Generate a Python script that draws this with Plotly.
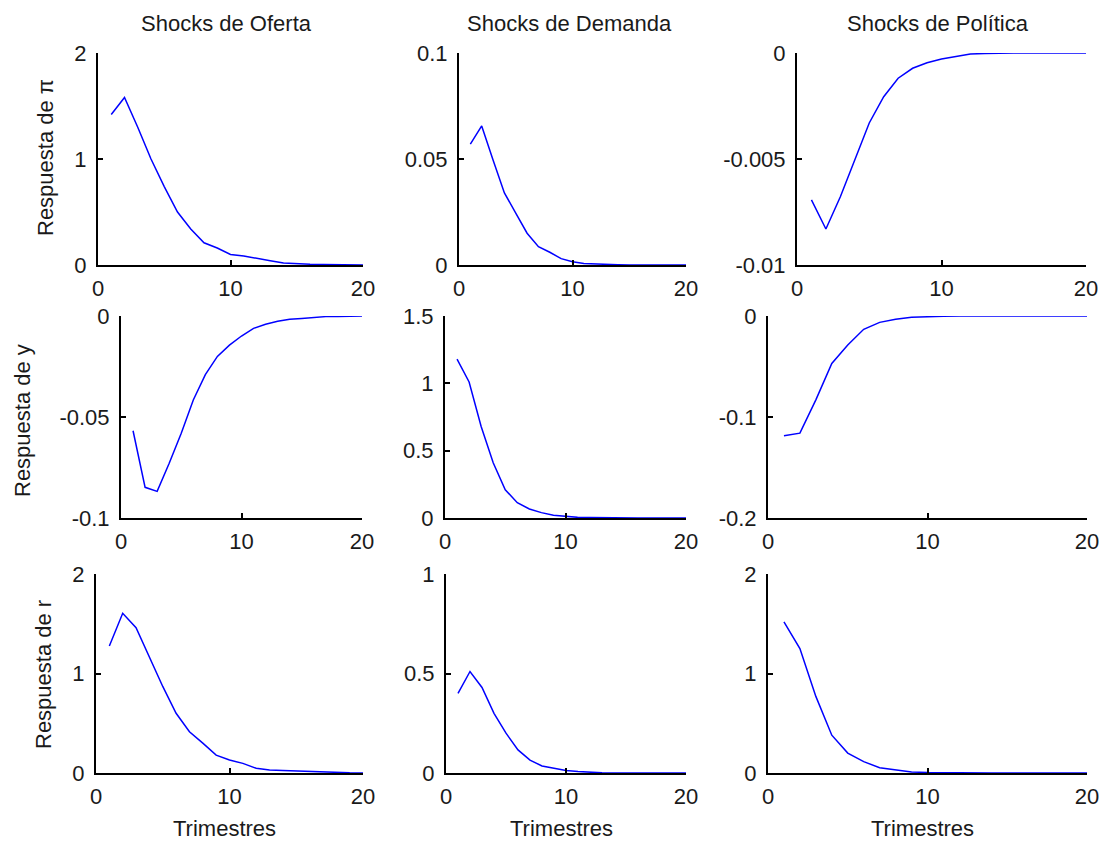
import plotly.graph_objects as go

t = list(range(1, 21))

# Row 1: Respuesta de pi
pi_oferta = [1.42, 1.58, 1.30, 1.00, 0.74, 0.50, 0.34, 0.21, 0.16, 0.10, 0.085, 0.06, 0.04, 0.02, 0.012, 0.008, 0.005, 0.003, 0.002, 0.001]
pi_demanda = [0.057, 0.0656, 0.0495, 0.034, 0.0245, 0.015, 0.0086, 0.006, 0.003, 0.0015, 0.0007, 0.0004, 0.0002, 0.0001, 0.0, 0.0, 0.0, 0.0, 0.0, 0.0]
pi_politica = [-0.00693, -0.0083, -0.00678, -0.00505, -0.0033, -0.00206, -0.00119, -0.00072, -0.00046, -0.00028, -0.00015, -0.00005, -0.00002, 0.0, 0.0, 0.0, 0.0, 0.0, 0.0, 0.0]

# Row 2: Respuesta de y
y_oferta = [-0.0568, -0.0848, -0.0868, -0.0729, -0.058, -0.0416, -0.029, -0.020, -0.0144, -0.0099, -0.0061, -0.0041, -0.0026, -0.0016, -0.0012, -0.0006, -0.0003, -0.0002, -0.0001, 0.0]
y_demanda = [1.18, 1.01, 0.68, 0.41, 0.21, 0.114, 0.067, 0.04, 0.02, 0.01, 0.005, 0.003, 0.001, 0.0, 0.0, 0.0, 0.0, 0.0, 0.0, 0.0]
y_politica = [-0.1185, -0.116, -0.083, -0.047, -0.0287, -0.0132, -0.0063, -0.0033, -0.0013, -0.0005, -0.0002, 0.0, 0.0, 0.0, 0.0, 0.0, 0.0, 0.0, 0.0, 0.0]

# Row 3: Respuesta de r
r_oferta = [1.276, 1.605, 1.46, 1.17, 0.87, 0.60, 0.415, 0.30, 0.18, 0.13, 0.097, 0.047, 0.03, 0.025, 0.02, 0.01, 0.005, 0.003, 0.002, 0.001]
r_demanda = [0.40, 0.51, 0.43, 0.30, 0.20, 0.116, 0.065, 0.035, 0.024, 0.013, 0.007, 0.003, 0.001, 0.0, 0.0, 0.0, 0.0, 0.0, 0.0, 0.0]
r_politica = [1.52, 1.25, 0.77, 0.38, 0.20, 0.114, 0.053, 0.03, 0.01, 0.005, 0.002, 0.001, 0.0, 0.0, 0.0, 0.0, 0.0, 0.0, 0.0, 0.0]

series = [[pi_oferta, pi_demanda, pi_politica],
          [y_oferta, y_demanda, y_politica],
          [r_oferta, r_demanda, r_politica]]

col_titles = ["Shocks de Oferta", "Shocks de Demanda", "Shocks de Política"]
row_titles = ["Respuesta de π", "Respuesta de y", "Respuesta de r"]
x_label = "Trimestres"

y_ranges = [[[0, 2], [0, 0.1], [-0.01, 0]],
            [[-0.1, 0], [0, 1.5], [-0.2, 0]],
            [[0, 2], [0, 1], [0, 2]]]
y_ticks = [[[0, 1, 2], [0, 0.05, 0.1], [-0.01, -0.005, 0]],
           [[-0.1, -0.05, 0], [0, 0.5, 1, 1.5], [-0.2, -0.1, 0]],
           [[0, 1, 2], [0, 0.5, 1], [0, 1, 2]]]
y_ticktext = [[["0", "1", "2"], ["0", "0.05", "0.1"], ["-0.01", "-0.005", "0"]],
              [["-0.1", "-0.05", "0"], ["0", "0.5", "1", "1.5"], ["-0.2", "-0.1", "0"]],
              [["0", "1", "2"], ["0", "0.5", "1"], ["0", "1", "2"]]]
x_ticks = [0, 10, 20]

W, H = 1104, 844
# pixel boxes (left, right) per row/col, and (top, bottom) per row
row_px = [(53, 265), (316, 518), (574, 773)]
col_px = [[(98, 363), (459, 686), (797, 1086)],
          [(121, 362), (445, 686), (768, 1087)],
          [(96, 363), (446, 686), (768, 1087)]]

FONT = "Liberation Sans, Arial, sans-serif"
FS = 22
TXT = "#1a1a1a"

fig = go.Figure()
layout = dict(template="none", width=W, height=H, autosize=False,
              margin=dict(l=0, r=0, t=0, b=0, pad=0, autoexpand=False),
              paper_bgcolor="white", plot_bgcolor="white", showlegend=False,
              font=dict(family=FONT, size=FS, color=TXT))
annotations = []
for r in range(3):
    for c in range(3):
        k = r * 3 + c + 1
        xs = "" if k == 1 else str(k)
        fig.add_trace(go.Scatter(x=t, y=series[r][c], mode="lines",
                                 line=dict(color="#0000ff", width=1.5),
                                 xaxis="x" + xs, yaxis="y" + xs, cliponaxis=False,
                                 hoverinfo="skip"))
        (x0, x1) = col_px[r][c]
        (y0, y1) = row_px[r]
        common = dict(showline=True, linecolor="black", linewidth=2, mirror=False,
                      ticks="inside", ticklen=5, tickwidth=1.5, tickcolor="black",
                      showgrid=False, zeroline=False, automargin=False,
                      tickfont=dict(family=FONT, size=FS, color=TXT))
        layout["xaxis" + xs] = dict(domain=[x0 / W, x1 / W], range=[0, 20],
                                    tickvals=x_ticks, anchor="y" + xs,
                                    ticklabelstandoff=3, **common)
        layout["yaxis" + xs] = dict(domain=[1 - y1 / H, 1 - y0 / H], range=y_ranges[r][c],
                                    tickvals=y_ticks[r][c], ticktext=y_ticktext[r][c],
                                    anchor="x" + xs, ticklabelstandoff=5, **common)

# column titles
title_x = [226, 569, 938]
for c in range(3):
    annotations.append(dict(text=col_titles[c], x=title_x[c] / W, y=1 - 23 / H,
                            xref="paper", yref="paper", showarrow=False,
                            xanchor="center", yanchor="middle",
                            font=dict(family=FONT, size=FS, color=TXT)))
# row titles
row_tx = [45, 23, 43]
row_ty = [158, 421, 675]
for r in range(3):
    annotations.append(dict(text=row_titles[r], x=row_tx[r] / W, y=1 - row_ty[r] / H,
                            xref="paper", yref="paper", showarrow=False, textangle=-90,
                            xanchor="center", yanchor="middle",
                            font=dict(family=FONT, size=FS, color=TXT)))
# x labels
xl_x = [224, 561, 922]
for c in range(3):
    annotations.append(dict(text=x_label, x=xl_x[c] / W, y=1 - 828 / H,
                            xref="paper", yref="paper", showarrow=False,
                            xanchor="center", yanchor="middle",
                            font=dict(family=FONT, size=FS, color=TXT)))
layout["annotations"] = annotations
fig.update_layout(**layout)
fig.write_html("out.html")
